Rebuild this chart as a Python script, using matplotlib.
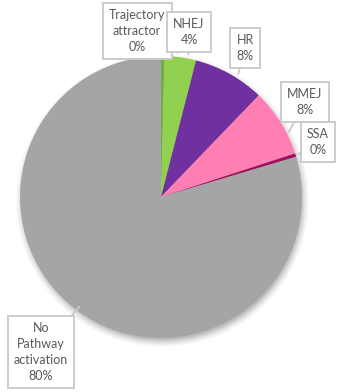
import numpy as np
import matplotlib
matplotlib.use("Agg")
import matplotlib.pyplot as plt

categories = ["Trajectory\nattractor", "NHEJ", "HR", "MMEJ", "SSA", "No\nPathway\nactivation"]
values = [0.4, 3.6, 8.2, 7.8, 0.4, 79.6]
pct_labels = ["0%", "4%", "8%", "8%", "0%", "80%"]
colors = ["#70AD47", "#92D050", "#7030A0", "#FF7FB2", "#A0105E", "#A5A5A5"]

W, H = 337, 392
fig = plt.figure(figsize=(W / 100, H / 100), dpi=100)
ax = fig.add_axes([0, 0, 1, 1])

cx, cy, R = 161, H - 197, 141

# soft shadow
yy, xx = np.mgrid[0:H, 0:W]
d = np.hypot(xx - (cx + 1), (H - yy) - (cy - 3))
blur = 9.0
a = np.clip((R + 2 - d) / blur + 0.5, 0, 1) * 0.55
a = a ** 1.5
img = np.zeros((H, W, 4))
img[..., 0:3] = 0.35
img[..., 3] = a
ax.imshow(img, extent=(0, W, 0, H), origin="upper", zorder=0, interpolation="bilinear")

wedges, _ = ax.pie(values, colors=colors, startangle=90, counterclock=False,
                   center=(cx, cy), radius=R, frame=True,
                   wedgeprops=dict(linewidth=0))
for w in wedges:
    w.set_zorder(1)
ax.set_xlim(0, W)
ax.set_ylim(0, H)
ax.set_aspect("equal")
ax.axis("off")

# label box centres (pixel coords from top)
label_pos = [(137, 31), (189, 32), (245, 48), (305, 102), (318, 142), (41, 352)]
target_r = [1.03, 1.03, 1.03, 1.02, 1.02, 0.97]
target_ang_offset = [6, 3, 3, 5, 0, 0]

total = sum(values)
cum = 0
for i, (cat, pl, v) in enumerate(zip(categories, pct_labels, values)):
    mid = 90 - (cum + v / 2) / total * 360 - target_ang_offset[i]
    cum += v
    tx = cx + R * target_r[i] * np.cos(np.radians(mid))
    ty = cy + R * target_r[i] * np.sin(np.radians(mid))
    lx, ly = label_pos[i]
    ax.annotate(cat + "\n" + pl, xy=(tx, ty), xytext=(lx, H - ly),
                ha="center", va="center", fontsize=9, color="#595959",
                family=["Lato", "DejaVu Sans"], linespacing=1.4,
                bbox=dict(boxstyle="square,pad=0.5", fc="white", ec="#C8C8C8", lw=1.3),
                arrowprops=dict(arrowstyle="-", color="#C8C8C8", lw=1.3,
                                shrinkA=0, shrinkB=0),
                zorder=5)

fig.savefig("out.png", dpi=100)
